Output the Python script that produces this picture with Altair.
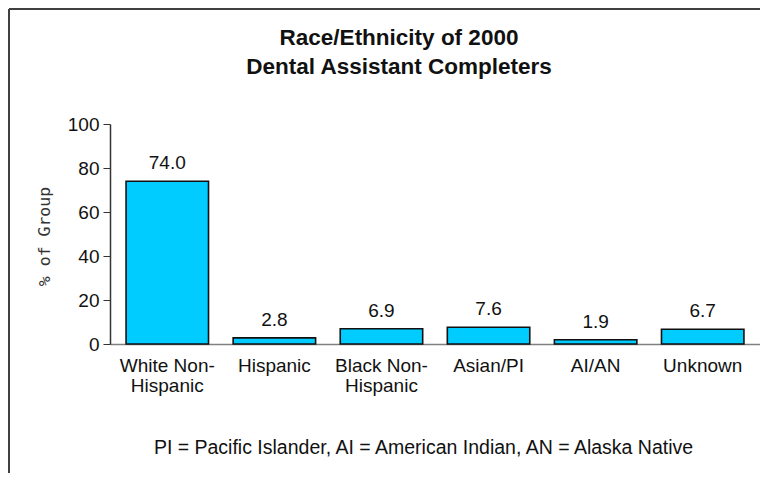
import altair as alt
import pandas as pd

categories = ["White Non-Hispanic", "Hispanic", "Black Non-Hispanic", "Asian/PI", "AI/AN", "Unknown"]
percents = [74.0, 2.8, 6.9, 7.6, 1.9, 6.7]
y_ticks = [0, 20, 40, 60, 80, 100]
title_lines = ["Race/Ethnicity of 2000", "Dental Assistant Completers"]
footnote = "PI = Pacific Islander, AI = American Indian, AN = Alaska Native"

df = pd.DataFrame({"cat": categories, "pct": percents})

FONT = "Liberation Sans"

x_enc = alt.X(
    "cat:N",
    sort=categories,
    scale=alt.Scale(paddingInner=0.23, paddingOuter=0.15),
    axis=alt.Axis(
        title=footnote,
        labelExpr="split(replace(datum.label, 'Non-', 'Non-|'), '|')",
        labelAngle=0,
        labelFont=FONT,
        labelFontSize=19,
        labelColor="#111111",
        labelLineHeight=20,
        labelPadding=12,
        labelBaseline="top",
        ticks=False,
        domainColor="#808080",
        domainWidth=1.5,
        titleFont=FONT,
        titleFontSize=19.5,
        titleFontWeight="normal",
        titleColor="#111111",
        titleX=313,
        titleY=103,
        titleAnchor="middle",
        titleAlign="center",
        titleBaseline="middle",
    ),
)
y_enc = alt.Y(
    "pct:Q",
    scale=alt.Scale(domain=[0, 100], nice=False),
    axis=alt.Axis(
        title="% of Group",
        values=y_ticks,
        grid=False,
        labelFont=FONT,
        labelFontSize=19,
        labelColor="#111111",
        labelPadding=4,
        tickSize=7,
        tickColor="#333333",
        domainColor="#333333",
        domainWidth=1.5,
        titleFont="DejaVu Sans Mono",
        titleFontSize=16.5,
        titleFontWeight="normal",
        titleColor="#333333",
        titleAngle=270,
        titleX=-66,
        titleY=112,
        titleAlign="center",
        titleBaseline="middle",
    ),
)

bars = alt.Chart(df).mark_bar(
    color="#00CCFF", stroke="#111111", strokeWidth=1.6
).encode(x=x_enc, y=y_enc)

labels = alt.Chart(df).mark_text(
    font=FONT, fontSize=19, color="#111111", baseline="bottom", dy=-8
).encode(
    x=alt.X("cat:N", sort=categories),
    y=alt.Y("pct:Q"),
    text=alt.Text("pct:Q", format=".1f"),
)

single = alt.Data(values=[{}])
frame_top = alt.Chart(single).mark_rule(color="#404040", strokeWidth=2).encode(
    x=alt.value(-101), x2=alt.value(700), y=alt.value(-115)
)
frame_left = alt.Chart(single).mark_rule(color="#404040", strokeWidth=2).encode(
    x=alt.value(-101), y=alt.value(-115), y2=alt.value(400)
)
title = alt.Chart(single).mark_text(
    font=FONT, fontSize=22.5, fontWeight="bold", color="#111111",
    align="center", baseline="middle", lineHeight=28.5,
).encode(
    x=alt.value(289), y=alt.value(-86), text=alt.value(title_lines)
)

chart = alt.layer(frame_top, frame_left, title, bars, labels).properties(
    width=650,
    height=220,
    background="white",
    autosize=alt.AutoSizeParams(type="none"),
    padding={"left": 102, "top": 116, "right": 0, "bottom": 129},
).configure_view(stroke=None)

chart.save("out.html", embed_options={"renderer": "svg", "actions": False})
